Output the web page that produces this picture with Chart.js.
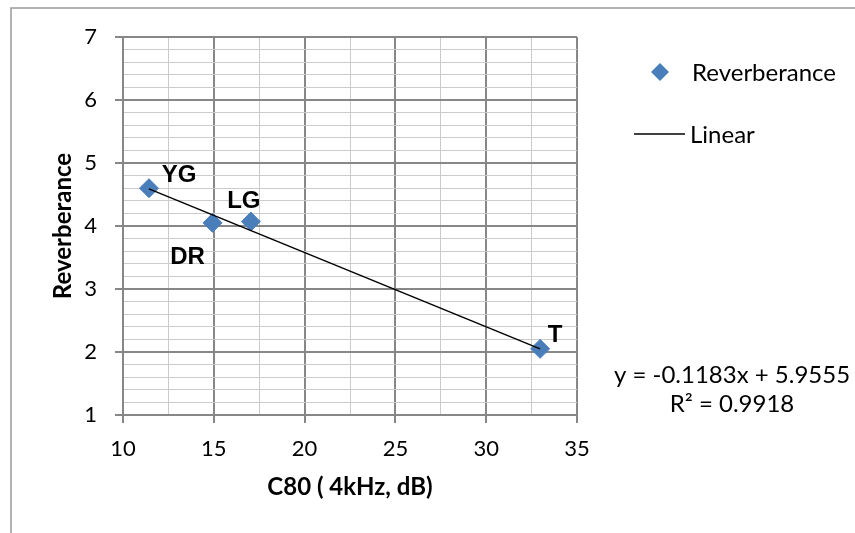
<!DOCTYPE html>
<html>
<head>
<meta charset="utf-8">
<script src="https://cdn.jsdelivr.net/npm/chart.js@4"></script>
<style>
    html, body { margin: 0; padding: 0; background: #fff; }
    #wrap { width: 855px; height: 533px; position: relative; }
</style>
</head>
<body>
<div id="wrap"><canvas id="chart" width="855" height="533"></canvas></div>
<script>
const samples = ['YG', 'DR', 'LG', 'T'];
const c80 = [11.43, 14.93, 17.04, 32.97];
const reverberance = [4.60, 4.05, 4.07, 2.05];

const trendX = [11.43, 32.97];
const trendY = [4.59, 2.05];

const xTicks = [10, 15, 20, 25, 30, 35];
const yTicks = [1, 2, 3, 4, 5, 6, 7];
const equation = ['y = -0.1183x + 5.9555', 'R² = 0.9918'];

const FONT = 'Lato';
const MAJOR = '#878787';
const MINOR = '#cbcbcb';

function isMajor(v, step) {
    return Math.abs(v / step - Math.round(v / step)) < 1e-6;
}

const labelOffsets = [[30, -15], [-25, 33], [-7, -22], [15, -15]];

const extras = {
    id: 'extras',
    afterDraw(chart) {
        const ctx = chart.ctx;
        ctx.save();

        // outer frame (only top and left visible)
        ctx.strokeStyle = '#9a9a9a';
        ctx.lineWidth = 1.5;
        ctx.beginPath();
        ctx.moveTo(11, 540);
        ctx.lineTo(11, 8);
        ctx.lineTo(860, 8);
        ctx.stroke();

        // point labels
        const meta = chart.getDatasetMeta(0);
        ctx.fillStyle = '#000';
        ctx.font = 'bold 24px "Liberation Sans", Arial';
        ctx.textAlign = 'center';
        ctx.textBaseline = 'alphabetic';
        meta.data.forEach((pt, i) => {
            const o = labelOffsets[i];
            ctx.fillText(samples[i], pt.x + o[0], pt.y + o[1] + 8.6);
        });

        // legend
        ctx.fillStyle = '#4a7ebb';
        ctx.beginPath();
        ctx.moveTo(660, 63);
        ctx.lineTo(669, 72);
        ctx.lineTo(660, 81);
        ctx.lineTo(651, 72);
        ctx.closePath();
        ctx.fill();

        ctx.strokeStyle = '#000';
        ctx.lineWidth = 1.5;
        ctx.beginPath();
        ctx.moveTo(634, 134);
        ctx.lineTo(685, 134);
        ctx.stroke();

        ctx.fillStyle = '#000';
        ctx.font = '24px ' + FONT;
        ctx.textAlign = 'left';
        ctx.fillText('Reverberance', 692, 81);
        ctx.fillText('Linear', 690, 143);

        // trendline equation
        ctx.textAlign = 'center';
        ctx.fillText(equation[0], 732, 383);
        ctx.fillText(equation[1], 732, 412);

        ctx.restore();
    }
};

new Chart(document.getElementById('chart'), {
    type: 'scatter',
    data: {
        datasets: [
            {
                label: 'Reverberance',
                data: c80.map((x, i) => ({ x: x, y: reverberance[i] })),
                pointStyle: 'rectRot',
                pointRadius: 9.5,
                backgroundColor: '#4a7ebb',
                borderColor: '#4a7ebb',
                borderWidth: 1,
                order: 2
            },
            {
                label: 'Linear',
                type: 'line',
                data: trendX.map((x, i) => ({ x: x, y: trendY[i] })),
                borderColor: '#000',
                borderWidth: 1.5,
                pointRadius: 0,
                fill: false,
                order: 1
            }
        ]
    },
    options: {
        responsive: false,
        animation: false,
        layout: { padding: { left: 0, top: 37, right: 278, bottom: 0 } },
        plugins: {
            legend: { display: false },
            tooltip: { enabled: false }
        },
        scales: {
            x: {
                type: 'linear',
                min: xTicks[0],
                max: xTicks[xTicks.length - 1],
                afterFit(scale) { scale.height = 118; },
                ticks: {
                    stepSize: 2.5,
                    autoSkip: false,
                    maxRotation: 0,
                    padding: 13,
                    color: '#000',
                    font: { family: FONT, size: 22 },
                    callback: v => isMajor(v, 5) ? String(v) : ''
                },
                grid: {
                    color: c => isMajor(c.tick.value, 5) ? MAJOR : MINOR,
                    lineWidth: c => isMajor(c.tick.value, 5) ? 2 : 1,
                    tickColor: c => isMajor(c.tick.value, 5) ? MAJOR : 'rgba(0,0,0,0)',
                    tickLength: 8
                },
                border: { color: MAJOR, width: 2 },
                title: {
                    display: true,
                    text: 'C80 ( 4kHz, dB)',
                    color: '#000',
                    font: { family: FONT, size: 24, weight: 'bold' },
                    padding: { top: 0, bottom: 31 }
                }
            },
            y: {
                type: 'linear',
                min: yTicks[0],
                max: yTicks[yTicks.length - 1],
                afterFit(scale) { scale.width = 123; },
                ticks: {
                    stepSize: 0.2,
                    autoSkip: false,
                    padding: 18,
                    color: '#000',
                    font: { family: FONT, size: 22 },
                    callback: v => isMajor(v, 1) ? String(Math.round(v)) : ''
                },
                grid: {
                    color: c => isMajor(c.tick.value, 1) ? MAJOR : MINOR,
                    lineWidth: c => isMajor(c.tick.value, 1) ? 2 : 1,
                    tickColor: c => isMajor(c.tick.value, 1) ? MAJOR : 'rgba(0,0,0,0)',
                    tickLength: 8
                },
                border: { color: MAJOR, width: 2 },
                title: {
                    display: true,
                    text: 'Reverberance',
                    color: '#000',
                    font: { family: FONT, size: 24, weight: 'bold' },
                    padding: { top: 49, bottom: 0 }
                }
            }
        }
    },
    plugins: [extras]
});
</script>
</body>
</html>
